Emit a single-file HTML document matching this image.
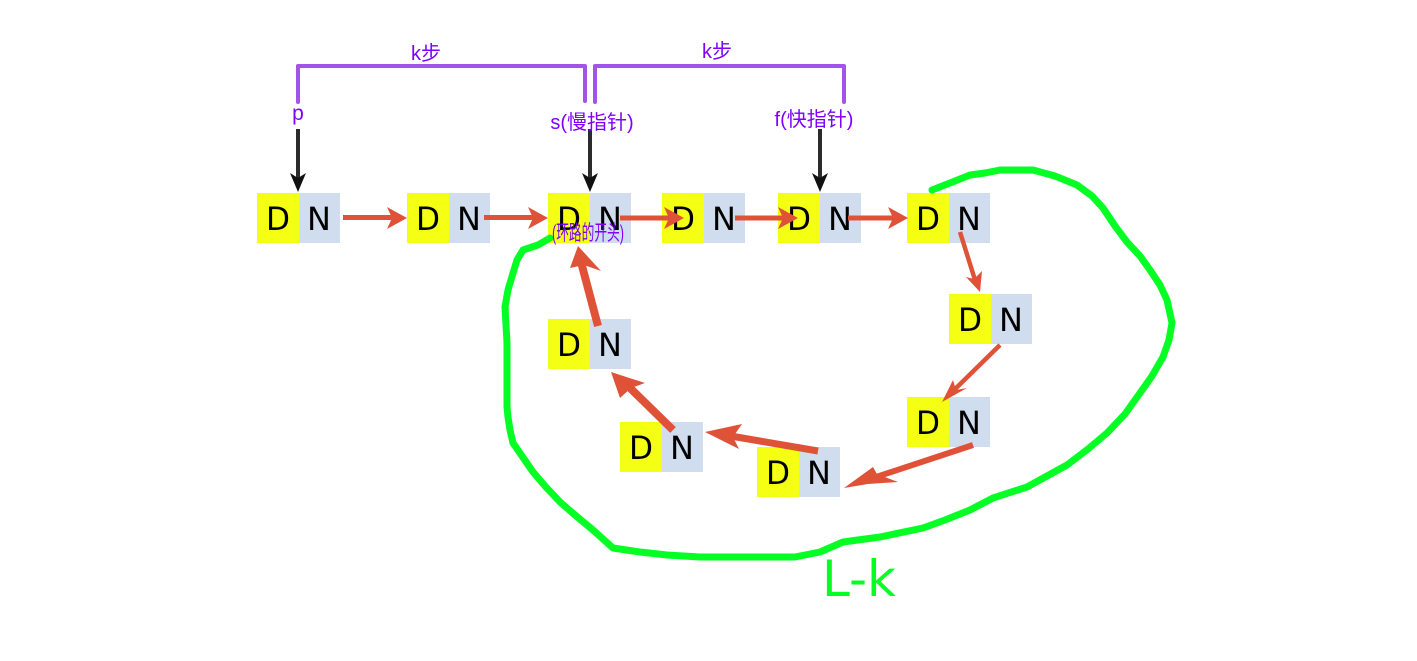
<!DOCTYPE html>
<html><head><meta charset="utf-8"><style>
html,body{margin:0;padding:0;background:#fff;width:1417px;height:661px;overflow:hidden}
svg{display:block}
.l{font-family:"DejaVu Sans",sans-serif;font-size:32px;fill:#000;text-anchor:middle}
.p{font-family:"Liberation Sans","Noto Sans CJK SC",sans-serif;fill:#7f00ff;text-anchor:middle}
</style></head><body>
<svg width="1417" height="661" viewBox="0 0 1417 661" xmlns="http://www.w3.org/2000/svg">
<defs>
<g id="n"><rect width="42" height="50" fill="#f5ff14"/><rect x="42" width="41" height="50" fill="#cfddee"/>
<text class="l" x="21" y="37" textLength="24" lengthAdjust="spacingAndGlyphs">D</text><text class="l" x="62" y="37">N</text></g>
</defs>
<use href="#n" x="257" y="193"/><use href="#n" x="407" y="193"/><use href="#n" x="548" y="193"/><use href="#n" x="662" y="193"/><use href="#n" x="778" y="193"/><use href="#n" x="907" y="193"/>
<use href="#n" x="949" y="294"/><use href="#n" x="907" y="397"/><use href="#n" x="757" y="447"/><use href="#n" x="620" y="422"/><use href="#n" x="548" y="319"/>

<g fill="none" stroke="#a354e8" stroke-width="4" stroke-linecap="round" stroke-linejoin="round">
<path d="M298 102V66H585V101"/><path d="M595 102V66H844V102"/></g>

<g stroke="#2b2b2b" stroke-width="4" fill="none"><path d="M298 129V180M590 129V180M820 129V180"/></g>
<g fill="#111"><path d="M298 192L290 173L298 178L306 173Z"/><path d="M590 192L582 173L590 178L598 173Z"/><path d="M820 192L812 173L820 178L828 173Z"/></g>

<g stroke="#e05238" fill="none">
<path stroke-width="5" d="M343 217.5H400M484 217.5H540M620 218H676M735 218H790M848 218H900"/>
<path stroke-width="4.5" d="M960 232L975 280"/>
<path stroke-width="4.5" d="M1000 345L950 394"/>
<path stroke-width="6" d="M973 445L870 479"/>
<path stroke-width="7" d="M818 451L725 435"/>
<path stroke-width="8" d="M673 430L627 385"/>
<path stroke-width="8" d="M598 326L581 262"/>
</g>
<g fill="#e05238">
<path d="M407 218L387 207L392 218L387 229Z"/><path d="M548 218L528 207L533 218L528 229Z"/><path d="M684 218L664 207L669 218L664 229Z"/><path d="M798 218L778 207L783 218L778 229Z"/><path d="M908 218L888 207L893 218L888 229Z"/>
<path d="M980 292L966 277L974 279L982 271Z"/>
<path d="M942 402L953 380L956 390L967 388Z"/>
<path d="M844 488L873 467L877 474L898 482L868 484Z"/>
<path d="M705 432L742 424L733 437L739 449Z"/>
<path d="M611 372L645 383L631 388L620 398Z"/>
<path d="M578 246L601 271L584 265L570 268Z"/>
</g>

<path fill="none" stroke="#05ff25" stroke-width="7" stroke-linecap="round" stroke-linejoin="round" d="M932 190L950 183L970 175L985 173L1000 170L1033 170L1055 176L1077 185L1092 196L1103 208L1115 226L1127 242L1140 256L1150 270L1160 285L1167 300L1172 323L1169 340L1163 357L1152 376L1140 393L1125 414L1107 433L1088 449L1067 465L1047 476L1027 487L993 498L970 510L945 520L923 528L880 537L843 542L820 552L795 557L700 557L667 555L640 552L613 548L593 530L575 515L560 502L545 486L533 472L522 456L513 443L510 430L508 417L507 407L507 343L505 307L508 290L513 273L517 260L523 250L538 245L550 238"/>

<text class="p" x="426" y="60" font-size="20">k步</text>
<text class="p" x="717" y="58" font-size="20">k步</text>
<text class="p" x="298" y="120" font-size="21">p</text>
<text class="p" x="592" y="129" font-size="20">s(慢指针)</text>
<text class="p" x="814" y="126" font-size="20">f(快指针)</text>
<text class="p" x="588" y="240" font-size="21" textLength="72" lengthAdjust="spacingAndGlyphs">(环路的开头)</text>
<text x="859" y="596" font-family="'DejaVu Sans',sans-serif" font-size="50" fill="#05ff25" text-anchor="middle">L-k</text>
</svg>
</body></html>
